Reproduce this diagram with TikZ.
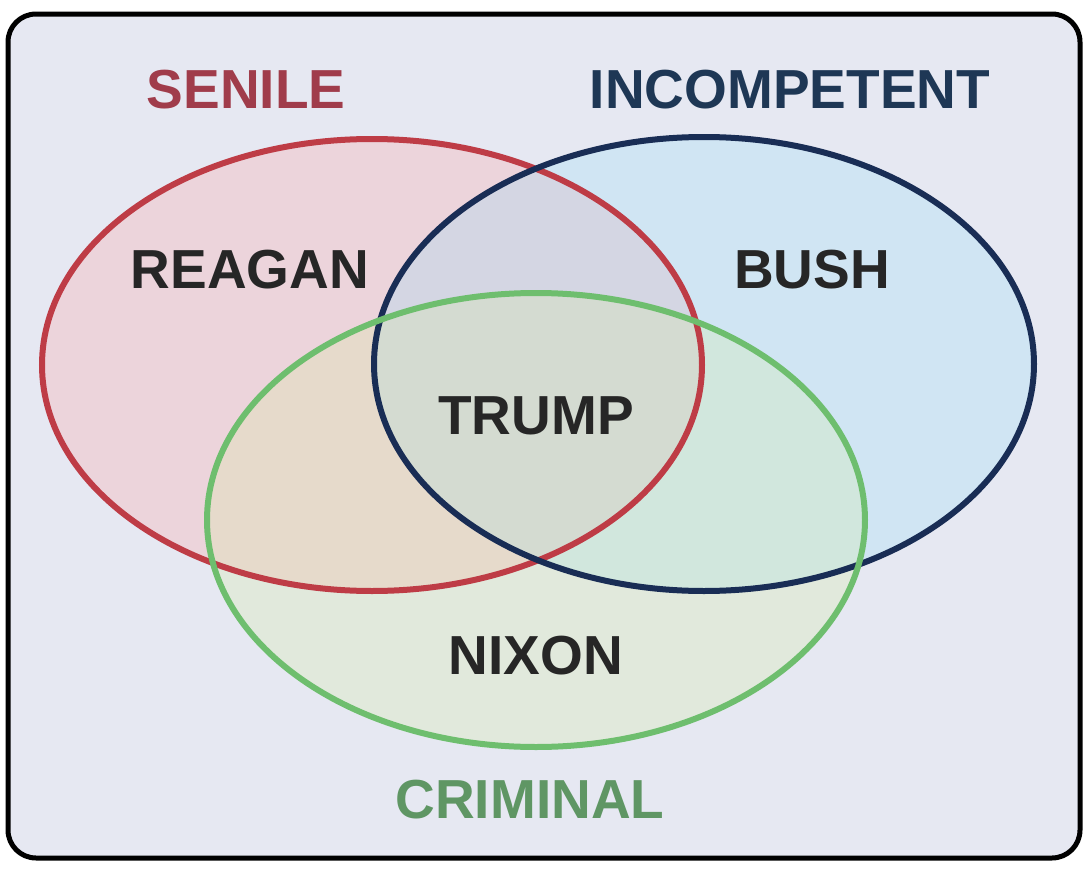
\documentclass[tikz,border=0pt]{standalone}
\usepackage{fontspec}
\setmainfont{Liberation Sans}
\begin{document}
\begin{tikzpicture}[x=1pt,y=-1pt,
  lab/.style={font=\fontsize{55}{60}\selectfont\bfseries,text=black!85},
  ring/.style={line width=6pt}]
\useasboundingbox (0,0) rectangle (1088,870);
\draw[line width=5pt,fill={rgb,255:red,230;green,232;blue,242},rounded corners=28pt] (8,14) rectangle (1080,858);
\definecolor{cred}{RGB}{190,60,70}
\definecolor{cblue}{RGB}{25,45,85}
\definecolor{cgreen}{RGB}{110,190,110}
\fill[red!40,opacity=0.25] (372,365) ellipse [x radius=330,y radius=226];
\fill[cyan!40,opacity=0.28] (704,364) ellipse [x radius=330,y radius=227];
\fill[yellow!60!green!40,opacity=0.25] (536,520) ellipse [x radius=329,y radius=227];
\draw[ring,cred] (372,365) ellipse [x radius=330,y radius=226];
\draw[ring,cblue] (704,364) ellipse [x radius=330,y radius=227];
\draw[ring,cgreen] (536,520) ellipse [x radius=329,y radius=227];
\node[lab,text={rgb,255:red,160;green,60;blue,75}] (senile) at (246,90) {SENILE};
\node[lab,text={rgb,255:red,30;green,55;blue,85}] (incomp) at (790,90) {INCOMPETENT};
\node[lab] (reagan) at (250,270) {REAGAN};
\node[lab] (bush) at (812,270) {BUSH};
\node[lab] (trump) at (536,416) {TRUMP};
\node[lab] (nixon) at (536,656) {NIXON};
\node[lab,text={rgb,255:red,95;green,150;blue,100}] (crim) at (530,800) {CRIMINAL};
\end{tikzpicture}
\end{document}
